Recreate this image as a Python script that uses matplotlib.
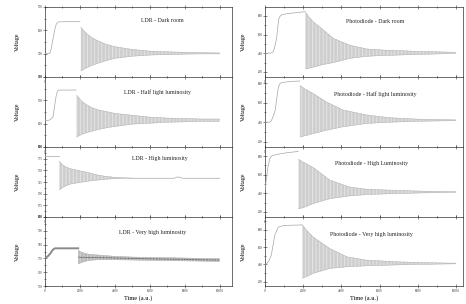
"""
Step response of LDR vs photodiode sensors under four lighting conditions.

Eight stacked panels (two columns, four rows). The dense ringing after the
step is drawn as a hatched band between upper and lower envelopes read off
the original figure.
"""

import matplotlib.pyplot as plt
from matplotlib.ticker import MultipleLocator

plt.rcParams["font.family"] = ["Liberation Serif", "DejaVu Serif"]
plt.rcParams["hatch.linewidth"] = 0.3

W_PX, H_PX, DPI = 466, 304, 100

TRACE = "#a6a6a6"
BAND_FACE = "#e4e4e4"
HATCH = "#b0b0b0"
AXIS_COLOR = "#333333"

# ---------------------------------------------------------------- LDR data
ldr_dark_rise_t = [0, 280, 350, 450, 550, 650, 760, 1200, 2000]
ldr_dark_rise_v = [500, 501, 520, 560, 600, 628, 636, 637, 637]
ldr_dark_osc_t = [2050, 2200, 2400, 2700, 3000, 3500, 4000, 5000, 6000, 7000, 8000, 9000, 10000]
ldr_dark_osc_hi = [614, 600, 585, 568, 556, 540, 530, 518, 511, 508, 506, 504, 503]
ldr_dark_osc_lo = [426, 432, 440, 450, 458, 470, 480, 489, 494, 496, 498, 499, 499]

ldr_half_rise_t = [0, 285, 460, 560, 640, 700, 760, 1200, 1770]
ldr_half_rise_v = [656, 658, 665, 690, 710, 718, 722, 722, 722]
ldr_half_osc_t = [1800, 1950, 2100, 2400, 2700, 3000, 3500, 4000, 5000, 6000, 7000, 8000, 9000, 10000]
ldr_half_osc_hi = [711, 705, 698, 690, 684, 680, 676, 672, 668, 664, 662, 661, 660, 660]
ldr_half_osc_lo = [621, 624, 627, 631, 634, 637, 641, 644, 649, 651, 653, 654, 655, 655]

ldr_high_rise_t = [0, 400, 817]
ldr_high_rise_v = [781, 781, 781]
ldr_high_osc_t = [820, 900, 1000, 1200, 1500, 2000, 2500, 3000, 3500, 4000, 4500, 5000]
ldr_high_osc_hi = [770, 766, 762, 757, 753, 749, 745, 740, 737, 735, 734, 733.5]
ldr_high_osc_lo = [708, 710, 713, 717, 721, 724, 727, 729, 731, 732, 733, 733]
ldr_high_tail_t = [5000, 7400, 7600, 7700, 7900, 10000]
ldr_high_tail_v = [733, 733, 736, 735, 733, 733]

ldr_vhigh_rise_t = [0, 100, 200, 300, 400, 500, 570, 1200, 1900]
ldr_vhigh_rise_v = [770.5, 771, 772, 773.5, 775.5, 776.8, 777.3, 777.3, 777.3]
ldr_vhigh_osc_t = [1900, 2000, 2200, 2500, 3000, 3500, 4000, 5000, 6000, 7000, 8000, 9000, 10000]
ldr_vhigh_osc_hi = [776, 775, 774, 773, 772.5, 772, 771.5, 771, 770.7, 770.5, 770.3, 770, 769.8]
ldr_vhigh_osc_lo = [766, 766.5, 767.5, 768.5, 769, 769, 769, 768.8, 768.6, 768.4, 768.2, 768, 767.8]
ldr_vhigh_mid_v = [771, 770.8, 770.7, 770.6, 770.6, 770.5, 770.3, 770, 769.7, 769.5, 769.3, 769, 768.8]

# --------------------------------------------------------- photodiode data
pd_dark_rise_t = [0, 300, 420, 500, 600, 680, 720, 800, 900, 1200, 1600, 2090]
pd_dark_rise_v = [400, 402, 415, 460, 553, 700, 767, 800, 815, 825, 835, 846]
pd_dark_osc_t = [2100, 2300, 2530, 2980, 3580, 4460, 5350, 6200, 7130, 8000, 8900, 10000]
pd_dark_osc_hi = [846, 790, 738, 663, 560, 485, 446, 435, 428, 420, 417, 410]
pd_dark_osc_lo = [232, 240, 251, 277, 300, 346, 368, 376, 382, 388, 392, 400]

pd_half_rise_t = [0, 250, 330, 450, 540, 620, 700, 800, 1000, 1400, 1820]
pd_half_rise_v = [400, 402, 415, 470, 529, 650, 760, 800, 810, 818, 822]
pd_half_osc_t = [1830, 2100, 2530, 3230, 4100, 5320, 6500, 8000, 10000]
pd_half_osc_hi = [776, 740, 694, 606, 525, 475, 447, 432, 424]
pd_half_osc_lo = [249, 262, 284, 319, 354, 388, 400, 410, 416]

pd_high_rise_t = [0, 50, 150, 250, 330, 500, 800, 1200, 1740]
pd_high_rise_v = [430, 520, 680, 770, 800, 812, 825, 838, 850]
pd_high_osc_t = [1750, 2000, 2530, 3400, 4400, 5300, 7000, 8500, 10000]
pd_high_osc_hi = [767, 735, 677, 542, 469, 444, 430, 422, 418]
pd_high_osc_lo = [233, 245, 290, 342, 371, 386, 398, 405, 410]

pd_vhigh_rise_t = [0, 100, 200, 330, 510, 690, 950, 1400, 1950]
pd_vhigh_rise_v = [400, 410, 440, 507, 737, 833, 850, 855, 858]
pd_vhigh_osc_t = [1960, 2200, 2530, 3400, 4300, 5320, 7000, 8500, 10000]
pd_vhigh_osc_hi = [858, 790, 717, 584, 488, 450, 430, 420, 415]
pd_vhigh_osc_lo = [239, 262, 297, 354, 373, 384, 395, 402, 407]

# titles, axis ranges and tick steps per panel
titles_ldr = [
    "LDR - Dark room",
    "LDR - Half light luminosity",
    "LDR - High luminosity",
    "LDR - Very high luminosity",
]
titles_pd = [
    "Photodiode - Dark room",
    "Photodiode - Half light luminosity",
    "Photodiode - High Luminosity",
    "Photodiode - Very high luminosity",
]
ylims_ldr = [(400, 700), (600, 750), (650, 800), (750, 800)]
ysteps_ldr = [100, 50, 25, 10]
ylims_pd = [(146, 896), (147, 863), (145, 898), (150, 950)]
ysteps_pd = [200, 200, 200, 200]
xticks = [0, 2000, 4000, 6000, 8000, 10000]

# layout in reference pixels
LEFT_X = (45, 232)
RIGHT_X = (265, 463)
ROW_EDGES = [7, 77, 147, 217, 286]
XLIM_LEFT = (0, 10700)
XLIM_RIGHT = (0, 10370)
TITLE_POS_LDR = [(0.626, 0.80), (0.60, 0.79), (0.615, 0.83), (0.577, 0.77)]
TITLE_POS_PD = [(0.556, 0.79), (0.556, 0.76), (0.54, 0.76), (0.54, 0.75)]


def make_axes(fig, xspan, row):
    x0, x1 = xspan
    top, bottom = ROW_EDGES[row], ROW_EDGES[row + 1]
    rect = [x0 / W_PX, 1 - bottom / H_PX, (x1 - x0) / W_PX, (bottom - top) / H_PX]
    return fig.add_axes(rect)


def style_axes(ax, xlim, ylim, ystep, last_row):
    ax.set_xlim(*xlim)
    ax.set_ylim(*ylim)
    ax.set_xticks(xticks)
    ax.xaxis.set_minor_locator(MultipleLocator(1000))
    ax.yaxis.set_major_locator(MultipleLocator(ystep))
    ax.yaxis.set_minor_locator(MultipleLocator(ystep / 2))
    ax.tick_params(
        which="both", direction="inout", top=True, right=False,
        labelsize=2.3, pad=0.8, colors=AXIS_COLOR, width=0.4,
    )
    ax.tick_params(which="major", length=2.2)
    ax.tick_params(which="minor", length=1.2)
    for sp in ax.spines.values():
        sp.set_linewidth(0.5)
        sp.set_color(AXIS_COLOR)
    if last_row:
        ax.set_xlabel("Time (a.u.)", fontsize=4.6, labelpad=2)


def draw_band(ax, t, hi, lo, face=BAND_FACE, hatch_color=HATCH):
    ax.fill_between(
        t, lo, hi, facecolor=face, edgecolor=hatch_color,
        hatch="|" * 12, linewidth=0, zorder=1,
    )
    ax.plot(t, hi, color=TRACE, lw=0.3, zorder=2)
    ax.plot(t, lo, color=TRACE, lw=0.3, zorder=2)


def main():
    fig = plt.figure(figsize=(W_PX / DPI, H_PX / DPI), dpi=DPI)

    ldr = [
        (ldr_dark_rise_t, ldr_dark_rise_v, ldr_dark_osc_t, ldr_dark_osc_hi, ldr_dark_osc_lo),
        (ldr_half_rise_t, ldr_half_rise_v, ldr_half_osc_t, ldr_half_osc_hi, ldr_half_osc_lo),
        (ldr_high_rise_t, ldr_high_rise_v, ldr_high_osc_t, ldr_high_osc_hi, ldr_high_osc_lo),
        (ldr_vhigh_rise_t, ldr_vhigh_rise_v, ldr_vhigh_osc_t, ldr_vhigh_osc_hi, ldr_vhigh_osc_lo),
    ]
    pd = [
        (pd_dark_rise_t, pd_dark_rise_v, pd_dark_osc_t, pd_dark_osc_hi, pd_dark_osc_lo),
        (pd_half_rise_t, pd_half_rise_v, pd_half_osc_t, pd_half_osc_hi, pd_half_osc_lo),
        (pd_high_rise_t, pd_high_rise_v, pd_high_osc_t, pd_high_osc_hi, pd_high_osc_lo),
        (pd_vhigh_rise_t, pd_vhigh_rise_v, pd_vhigh_osc_t, pd_vhigh_osc_hi, pd_vhigh_osc_lo),
    ]

    for row in range(4):
        last = row == 3

        # left column: LDR
        ax = make_axes(fig, LEFT_X, row)
        rt, rv, ot, ohi, olo = ldr[row]
        if row == 3:
            ax.plot(rt, rv, color="#8a8a8a", lw=1.4, zorder=3)
            draw_band(ax, ot, ohi, olo, face="#d2d2d2", hatch_color="#9a9a9a")
            ax.plot(ot, ldr_vhigh_mid_v, color="#5a5a5a", lw=0.7, ls=(0, (1, 0.6)), zorder=3)
        else:
            ax.plot(rt, rv, color=TRACE, lw=0.5, zorder=3)
            draw_band(ax, ot, ohi, olo)
        if row == 2:
            ax.plot(ldr_high_tail_t, ldr_high_tail_v, color=TRACE, lw=0.5, zorder=3)
        style_axes(ax, XLIM_LEFT, ylims_ldr[row], ysteps_ldr[row], last)
        ax.set_ylabel("Voltage", fontsize=4.3)
        ax.yaxis.set_label_coords(-25 / (LEFT_X[1] - LEFT_X[0]), 0.5)
        tx, ty = TITLE_POS_LDR[row]
        ax.text(tx, ty, titles_ldr[row], transform=ax.transAxes,
                ha="center", va="center", fontsize=4.2, color="#222222")

        # right column: photodiode
        ax = make_axes(fig, RIGHT_X, row)
        rt, rv, ot, ohi, olo = pd[row]
        ax.plot(rt, rv, color=TRACE, lw=0.5, zorder=3)
        draw_band(ax, ot, ohi, olo)
        style_axes(ax, XLIM_RIGHT, ylims_pd[row], ysteps_pd[row], last)
        ax.set_ylabel("Voltage", fontsize=4.3)
        ax.yaxis.set_label_coords(-19 / (RIGHT_X[1] - RIGHT_X[0]), 0.5)
        tx, ty = TITLE_POS_PD[row]
        ax.text(tx, ty, titles_pd[row], transform=ax.transAxes,
                ha="center", va="center", fontsize=4.2, color="#222222")

    fig.savefig("out.png", dpi=DPI)
    plt.close(fig)


if __name__ == "__main__":
    main()
